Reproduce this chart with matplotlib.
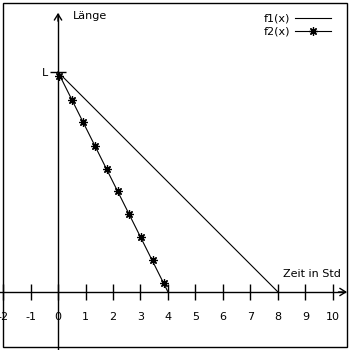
import matplotlib
matplotlib.use('Agg')
import matplotlib.pyplot as plt
from matplotlib.lines import Line2D
from matplotlib.patches import Rectangle

# data
x_ticks = [-2, -1, 0, 1, 2, 3, 4, 5, 6, 7, 8, 9, 10]
x_ticklabels = ['-2', '-1', '0', '1', '2', '3', '4', '5', '6', '7', '8', '9', '10']
L = 8

f1_x = [0, 8]
f1_y = [L, 0]

f2_x = [0, 4]
f2_y = [L, 0]
f2_mark_x = [0.05, 0.5, 0.92, 1.35, 1.77, 2.18, 2.6, 3.02, 3.44, 3.85]
f2_mark_y = [7.87, 6.98, 6.17, 5.32, 4.49, 3.67, 2.84, 2.01, 1.16, 0.34]

star = (8, 2, 0)

fig = plt.figure(figsize=(3.5, 3.5), dpi=100)
ax = fig.add_axes([0, 0, 1, 1])
ax.set_xlim(-2.11, 10.62)
ax.set_ylim(-2.11, 10.62)

# axes through the origin
ax.spines['top'].set_visible(False)
ax.spines['right'].set_visible(False)
ax.spines['left'].set_position(('data', 0))
ax.spines['bottom'].set_position(('data', 0))
ax.spines['left'].set_bounds(-2.2, 10.1)
ax.spines['bottom'].set_bounds(-2.2, 10.45)
ax.spines['left'].set_linewidth(1)
ax.spines['bottom'].set_linewidth(1)

ax.annotate('', xy=(10.51, 0), xytext=(10.2, 0),
			arrowprops=dict(arrowstyle='->,head_length=0.35,head_width=0.22',
							lw=1, color='black', mutation_scale=12,
							shrinkA=0, shrinkB=0))
ax.annotate('', xy=(0, 10.15), xytext=(0, 9.85),
			arrowprops=dict(arrowstyle='->,head_length=0.35,head_width=0.22',
							lw=1, color='black', mutation_scale=12,
							shrinkA=0, shrinkB=0))

ax.set_xticks(x_ticks)
ax.set_xticklabels(x_ticklabels)
ax.set_yticks([L])
ax.set_yticklabels(['L'])
ax.tick_params(axis='x', direction='inout', length=12, width=1, pad=8.5, labelsize=8)
ax.tick_params(axis='y', direction='inout', length=12, width=1, pad=1, labelsize=8)

ax.plot(f1_x, f1_y, color='black', lw=0.8)
ax.plot(f2_x, f2_y, color='black', lw=0.8)
ax.plot(f2_mark_x, f2_mark_y, ls='none', marker=star, color='black',
		markersize=6, markeredgewidth=0.9)

ax.text(0.53, 10.04, 'Länge', fontsize=8, ha='left', va='center')
ax.text(8.17, 0.65, 'Zeit in Std', fontsize=8, ha='left', va='center')

handles = [Line2D([], [], color='black', lw=0.8),
		   Line2D([], [], color='black', lw=0.8, marker=star, markersize=6,
				  markeredgewidth=0.9)]
ax.legend(handles, ['f1(x)', 'f2(x)'], loc='upper right',
		  bbox_to_anchor=(337 / 350, 1 - 8 / 350), bbox_transform=fig.transFigure,
		  frameon=False, markerfirst=False, numpoints=1, fontsize=8,
		  handlelength=3.3, handletextpad=0.4, labelspacing=0.3, borderpad=0)

# frame around the picture
fig.patches.append(Rectangle((3 / 350, 3 / 350), 344 / 350, 344 / 350,
							 transform=fig.transFigure, fill=False,
							 lw=1, edgecolor='black', zorder=10))

fig.savefig('out.png', dpi=100)
